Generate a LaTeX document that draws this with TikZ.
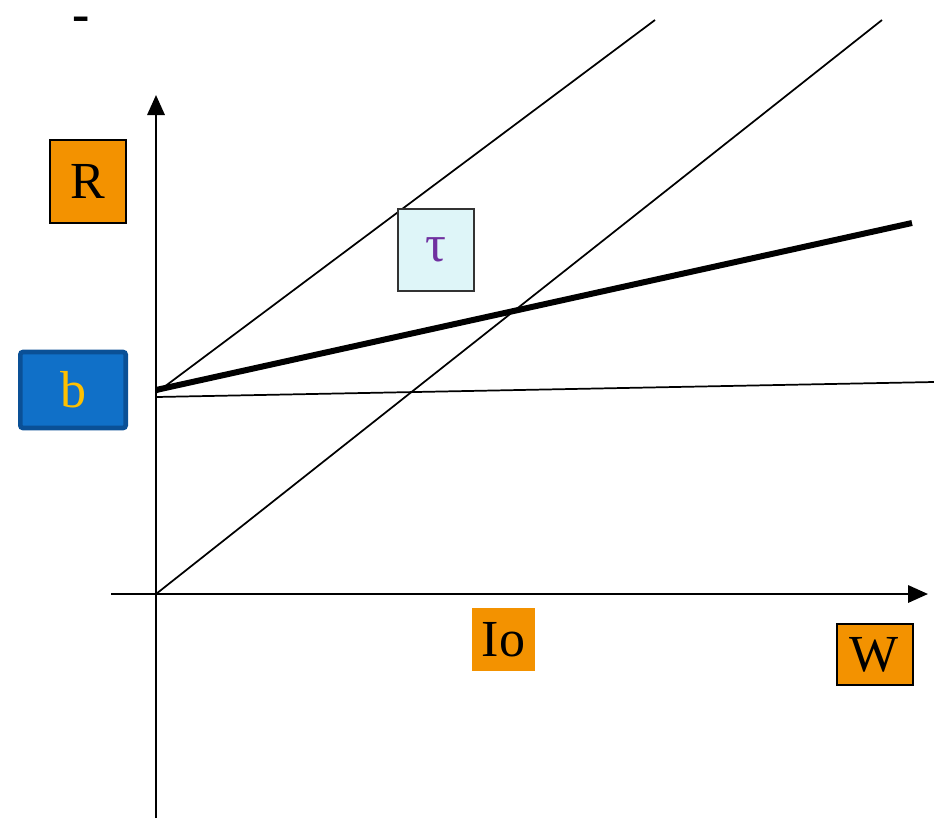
\documentclass[tikz,border=0pt]{standalone}
\usepackage{fontspec}
\setmainfont{Liberation Serif}
\usetikzlibrary{arrows.meta,%
		positioning}
\definecolor{arancio}{RGB}{243,146,0}
\definecolor{bluscuro}{RGB}{10,80,150}
\definecolor{blu}{RGB}{16,112,200}
\definecolor{giallo}{RGB}{255,192,0}
\definecolor{azzurrino}{RGB}{222,245,248}
\definecolor{viola}{RGB}{112,48,160}
\tikzset{etichetta/.style={font=\fontsize{39}{42}\selectfont, inner sep=0pt, line width=1.5pt},
	arancione/.style={etichetta, fill=arancio},
	retta/.style={line width=1.3pt},
	asse/.style={line width=1.7pt, -{Triangle[length=15pt,width=13pt]}}}
\begin{document}
\begin{tikzpicture}[x=0.75pt,y=-0.75pt]
\useasboundingbox (0,0) rectangle (934,818);
%assi
\coordinate (O) at (156,594);
\coordinate (Ybasso) at (156,818);
\coordinate (Yalto) at (156,95);
\coordinate (Xsx) at (111,594);
\coordinate (Xdx) at (928,594);
\draw[asse] (Ybasso) -- (Yalto);
\draw[asse] (Xsx) -- (Xdx);
%rette
\coordinate (A1) at (156,393);
\coordinate (A2) at (655,20);
\coordinate (B2) at (882,20);
\coordinate (C1) at (156,390);
\coordinate (C2) at (912,223);
\coordinate (D1) at (156,397);
\coordinate (D2) at (934,382);
\draw[retta] (A1) -- (A2);
\draw[retta] (O) -- (B2);
\draw[retta] (D1) -- (D2);
\draw[line width=4.5pt] (C1) -- (C2);
%etichette
\node[arancione, draw=black, minimum width=57pt, minimum height=62pt] (R) at (88,181.5) {R};
\node[etichetta, fill=blu, draw=bluscuro, line width=3.5pt, rounded corners=2pt, text=giallo, minimum width=79pt, minimum height=57pt] (b) at (73,390) {b};
\node[etichetta, fill=azzurrino, draw=black!80, text=viola, minimum width=57pt, minimum height=62pt] (tau) at (435.5,250) {τ};
\node[arancione, minimum width=47pt, minimum height=47pt] (Io) at (503.5,639.5) {Io};
\node[arancione, draw=black, minimum width=57pt, minimum height=46pt] (W) at (874.5,654.5) {W};
\node[etichetta, font=\bfseries\fontsize{39}{42}\selectfont, text height=14pt, text depth=0pt] (trattino) at (81,22) {-};
\end{tikzpicture}
\end{document}
